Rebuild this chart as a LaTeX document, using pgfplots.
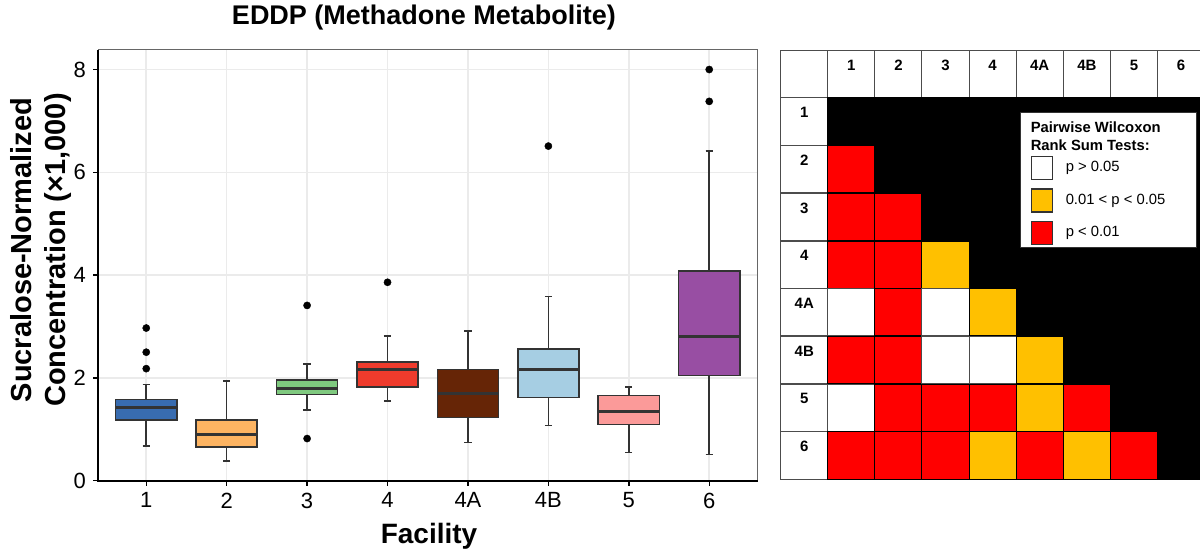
\documentclass[border=0pt]{standalone}
\usepackage{fontspec}
\setmainfont{Liberation Sans}
\usepackage{pgfplots}
\pgfplotsset{compat=1.18}
\usepgfplotslibrary{statistics}
\usepackage{pgfplotstable}

\definecolor{c1}{HTML}{386CB0}
\definecolor{c2}{HTML}{FDB462}
\definecolor{c3}{HTML}{7FC97F}
\definecolor{c4}{HTML}{EF3B2C}
\definecolor{c5}{HTML}{662506}
\definecolor{c6}{HTML}{A6CEE3}
\definecolor{c7}{HTML}{FB9A99}
\definecolor{c8}{HTML}{984EA3}
\definecolor{pOr}{RGB}{255,192,0}
\definecolor{pRd}{RGB}{255,0,0}

% pairwise test grid: w = p>0.05, o = 0.01<p<0.05, r = p<0.01, k = unused (black)
\pgfplotstableread{
x y c
0 0 w
1 0 w
2 0 w
3 0 w
4 0 w
5 0 w
6 0 w
7 0 w
8 0 w
0 1 w
1 1 k
2 1 k
3 1 k
4 1 k
5 1 k
6 1 k
7 1 k
8 1 k
0 2 w
1 2 r
2 2 k
3 2 k
4 2 k
5 2 k
6 2 k
7 2 k
8 2 k
0 3 w
1 3 r
2 3 r
3 3 k
4 3 k
5 3 k
6 3 k
7 3 k
8 3 k
0 4 w
1 4 r
2 4 r
3 4 o
4 4 k
5 4 k
6 4 k
7 4 k
8 4 k
0 5 w
1 5 w
2 5 r
3 5 w
4 5 o
5 5 k
6 5 k
7 5 k
8 5 k
0 6 w
1 6 r
2 6 r
3 6 w
4 6 w
5 6 o
6 6 k
7 6 k
8 6 k
0 7 w
1 7 w
2 7 r
3 7 r
4 7 r
5 7 o
6 7 r
7 7 k
8 7 k
0 8 w
1 8 r
2 8 r
3 8 r
4 8 o
5 8 r
6 8 o
7 8 r
8 8 k
}\pwtable

\pgfplotsset{
  bp/.style={draw=black!80, line width=0.8pt, fill=#1, mark=*, mark size=1.8pt,
    mark options={fill=black, draw=black, line width=0.2pt}},
}

\begin{document}
\begin{tikzpicture}
\begin{axis}[
  at={(49pt,37.65pt)}, anchor=south west, scale only axis,
  width=329.75pt, height=215.35pt,
  xmin=0.4, xmax=8.6, ymin=0, ymax=8.38,
  xtick={1,2,3,4,5,6,7,8}, xticklabels={1,2,3,4,4A,4B,5,6},
  ytick={0,2,4,6,8},
  tick pos=left, tick align=outside, major tick length=2.5pt,
  tick style={black, line width=0.7pt},
  grid=major, major grid style={draw=black!8, line width=0.8pt},
  axis line style={draw=black!60, line width=0.5pt},
  ticklabel style={font=\fontsize{11}{13}\selectfont, text=black},
  /pgf/number format/assume math mode=true,
  boxplot/draw direction=y,
  boxplot/box extend=0.76,
  boxplot/whisker extend=0.09,
  boxplot/every median/.style={line width=1.5pt},
  clip=false,
]
\addplot[bp=c1, boxplot prepared={draw position=1, lower whisker=0.67, lower quartile=1.18, median=1.43, upper quartile=1.58, upper whisker=1.87}]
  table[row sep=\\, y index=0] {v\\ 2.97\\ 2.50\\ 2.18\\};
\addplot[bp=c2, boxplot prepared={draw position=2, lower whisker=0.38, lower quartile=0.65, median=0.89, upper quartile=1.18, upper whisker=1.94}]
  coordinates {};
\addplot[bp=c3, boxplot prepared={draw position=3, lower whisker=1.37, lower quartile=1.68, median=1.79, upper quartile=1.96, upper whisker=2.27}]
  table[row sep=\\, y index=0] {v\\ 3.41\\ 0.82\\};
\addplot[bp=c4, boxplot prepared={draw position=4, lower whisker=1.55, lower quartile=1.82, median=2.16, upper quartile=2.31, upper whisker=2.82}]
  table[row sep=\\, y index=0] {v\\ 3.86\\};
\addplot[bp=c5, boxplot prepared={draw position=5, lower whisker=0.74, lower quartile=1.23, median=1.70, upper quartile=2.16, upper whisker=2.91}]
  coordinates {};
\addplot[bp=c6, boxplot prepared={draw position=6, lower whisker=1.07, lower quartile=1.62, median=2.16, upper quartile=2.56, upper whisker=3.58}]
  table[row sep=\\, y index=0] {v\\ 6.51\\};
\addplot[bp=c7, boxplot prepared={draw position=7, lower whisker=0.55, lower quartile=1.09, median=1.34, upper quartile=1.66, upper whisker=1.82}]
  coordinates {};
\addplot[bp=c8, boxplot prepared={draw position=8, lower whisker=0.51, lower quartile=2.05, median=2.81, upper quartile=4.08, upper whisker=6.42}]
  table[row sep=\\, y index=0] {v\\ 8.00\\ 7.38\\};
\draw[black, line width=1pt] (rel axis cs:0,1) -- (rel axis cs:0,0) -- (rel axis cs:1,0);
\end{axis}

% titles and axis labels
\node[anchor=base, font=\fontsize{13.5}{16}\selectfont\bfseries] at (212pt,265.5pt) {EDDP (Methadone Metabolite)};
\node[anchor=base, font=\fontsize{14}{17}\selectfont\bfseries] at (214.5pt,6pt) {Facility};
\node[anchor=base, rotate=90, font=\fontsize{14.5}{17}\selectfont\bfseries] at (16pt,153pt) {Sucralose-Normalized};
\node[anchor=base, rotate=90, font=\fontsize{14.5}{17}\selectfont\bfseries] at (32.5pt,153pt) {Concentration (×1,000)};

% pairwise comparison grid
\begin{axis}[
  at={(390.35pt,38.35pt)}, anchor=south west, scale only axis,
  width=211.95pt, height=214.65pt,
  xmin=-0.5, xmax=8.5, ymin=-0.5, ymax=8.5, y dir=reverse,
  hide axis, clip=false, clip marker paths=true,
  legend cell align=left,
  legend style={at={(axis cs:4.58,0.80)}, anchor=north west, fill=white,
    draw=black!80, line width=0.6pt, inner xsep=5pt, inner ysep=1.5pt,
    row sep=4pt, font=\fontsize{7.4}{9}\selectfont,
    /tikz/every odd column/.append style={column sep=4.5pt}},
]
\addplot[scatter, only marks, mark=square*, mark size=11.8pt,
  scatter src=explicit symbolic,
  scatter/classes={
    w={mark=square*, fill=white, draw=black!70},
    o={mark=square*, fill=pOr, draw=black},
    r={mark=square*, fill=pRd, draw=black},
    k={mark=square*, fill=black, draw=black}},
  mark options={line width=0.5pt}, forget plot]
  table[x=x, y=y, meta=c] {\pwtable};

\addlegendimage{empty legend}
\addlegendentry{\hspace*{-17.5pt}\begin{tabular}{@{}l@{}}\bfseries Pairwise Wilcoxon\\\bfseries Rank Sum Tests:\end{tabular}}
\addlegendimage{legend image code/.code={\draw[fill=white, draw=black!80, line width=0.6pt] (0pt,-5.75pt) rectangle (10.5pt,5.75pt);}}
\addlegendentry{p > 0.05}
\addlegendimage{legend image code/.code={\draw[fill=pOr, draw=black!80, line width=0.6pt] (0pt,-5.75pt) rectangle (10.5pt,5.75pt);}}
\addlegendentry{\makebox[58.5pt][l]{0.01 < p < 0.05}}
\addlegendimage{legend image code/.code={\draw[fill=pRd, draw=black!80, line width=0.6pt] (0pt,-5.75pt) rectangle (10.5pt,5.75pt);}}
\addlegendentry{p < 0.01\rule[-7pt]{0pt}{7pt}}

\node[anchor=base, font=\fontsize{7.5}{9}\selectfont\bfseries] at (axis cs:1,-0.08) {1};
\node[anchor=base, font=\fontsize{7.5}{9}\selectfont\bfseries] at (axis cs:2,-0.08) {2};
\node[anchor=base, font=\fontsize{7.5}{9}\selectfont\bfseries] at (axis cs:3,-0.08) {3};
\node[anchor=base, font=\fontsize{7.5}{9}\selectfont\bfseries] at (axis cs:4,-0.08) {4};
\node[anchor=base, font=\fontsize{7.5}{9}\selectfont\bfseries] at (axis cs:5,-0.08) {4A};
\node[anchor=base, font=\fontsize{7.5}{9}\selectfont\bfseries] at (axis cs:6,-0.08) {4B};
\node[anchor=base, font=\fontsize{7.5}{9}\selectfont\bfseries] at (axis cs:7,-0.08) {5};
\node[anchor=base, font=\fontsize{7.5}{9}\selectfont\bfseries] at (axis cs:8,-0.08) {6};
\node[anchor=base, font=\fontsize{7.5}{9}\selectfont\bfseries] at (axis cs:0,0.92) {1};
\node[anchor=base, font=\fontsize{7.5}{9}\selectfont\bfseries] at (axis cs:0,1.92) {2};
\node[anchor=base, font=\fontsize{7.5}{9}\selectfont\bfseries] at (axis cs:0,2.92) {3};
\node[anchor=base, font=\fontsize{7.5}{9}\selectfont\bfseries] at (axis cs:0,3.92) {4};
\node[anchor=base, font=\fontsize{7.5}{9}\selectfont\bfseries] at (axis cs:0,4.92) {4A};
\node[anchor=base, font=\fontsize{7.5}{9}\selectfont\bfseries] at (axis cs:0,5.92) {4B};
\node[anchor=base, font=\fontsize{7.5}{9}\selectfont\bfseries] at (axis cs:0,6.92) {5};
\node[anchor=base, font=\fontsize{7.5}{9}\selectfont\bfseries] at (axis cs:0,7.92) {6};
\end{axis}

\pgfresetboundingbox
\useasboundingbox (0pt,0pt) rectangle (600pt,278pt);
\end{tikzpicture}
\end{document}
